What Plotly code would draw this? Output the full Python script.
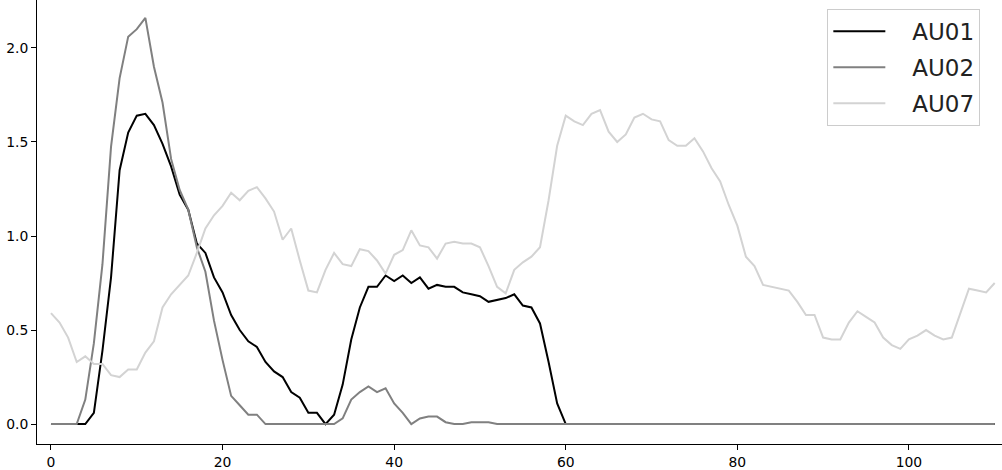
import plotly.graph_objects as go

frames = list(range(111))

au01 = [0, 0, 0, 0, 0, 0.06, 0.39, 0.78, 1.35, 1.55, 1.64, 1.65, 1.59, 1.49, 1.37, 1.22,
        1.14, 0.96, 0.91, 0.78, 0.70, 0.58, 0.50, 0.44, 0.41, 0.33, 0.28, 0.25, 0.17, 0.14,
        0.06, 0.06, 0.0, 0.05, 0.21, 0.45, 0.62, 0.73, 0.73, 0.79, 0.76, 0.79, 0.75, 0.78,
        0.72, 0.74, 0.73, 0.73, 0.70, 0.69, 0.68, 0.65, 0.66, 0.67, 0.69, 0.63, 0.62, 0.535,
        0.33, 0.11, 0] + [0] * 50

au02 = [0, 0, 0, 0, 0.13, 0.43, 0.85, 1.475, 1.84, 2.06, 2.10, 2.16, 1.90, 1.71, 1.41, 1.245,
        1.14, 0.94, 0.81, 0.55, 0.34, 0.15, 0.10, 0.05, 0.05, 0, 0, 0, 0, 0,
        0, 0, 0, 0, 0.03, 0.13, 0.17, 0.20, 0.17, 0.19, 0.11, 0.06, 0.0, 0.03,
        0.04, 0.04, 0.01, 0.0, 0.0, 0.01, 0.01, 0.01, 0] + [0] * 58

au07 = [0.59, 0.54, 0.46, 0.33, 0.36, 0.32, 0.32, 0.26, 0.25, 0.29, 0.29, 0.38, 0.44, 0.62,
        0.69, 0.74, 0.79, 0.91, 1.04, 1.11, 1.16, 1.23, 1.19, 1.24, 1.26, 1.20, 1.13, 0.98,
        1.04, 0.87, 0.71, 0.70, 0.82, 0.91, 0.85, 0.84, 0.93, 0.92, 0.87, 0.80, 0.90, 0.925,
        1.03, 0.95, 0.94, 0.88, 0.96, 0.97, 0.96, 0.96, 0.94, 0.84, 0.73, 0.695, 0.82, 0.86,
        0.89, 0.94, 1.19, 1.48, 1.64, 1.61, 1.59, 1.65, 1.67, 1.555, 1.50, 1.54, 1.63, 1.65,
        1.62, 1.61, 1.51, 1.48, 1.48, 1.52, 1.45, 1.36, 1.29, 1.165, 1.055, 0.89, 0.84, 0.74,
        0.73, 0.72, 0.71, 0.65, 0.58, 0.58, 0.46, 0.45, 0.45, 0.54, 0.60, 0.57, 0.54, 0.46,
        0.42, 0.40, 0.45, 0.47, 0.50, 0.47, 0.45, 0.46, 0.59, 0.72, 0.71, 0.70, 0.75]

x_ticks = [0, 20, 40, 60, 80, 100]
y_ticks = [0.0, 0.5, 1.0, 1.5, 2.0]

pad = '\u00a0\u00a0\u00a0'
fig = go.Figure()
fig.add_scatter(x=frames, y=au01, mode='lines', name=pad + 'AU01', legendgroup='a',
                line=dict(color='black', width=2))
fig.add_scatter(x=frames, y=au02, mode='lines', name=pad + 'AU02', legendgroup='b',
                line=dict(color='gray', width=2))
fig.add_scatter(x=frames, y=au07, mode='lines', name=pad + 'AU07', legendgroup='c',
                line=dict(color='lightgray', width=2))

axis_style = dict(showgrid=False, zeroline=False, showline=True, linecolor='black', linewidth=1,
                  ticks='outside', ticklen=5, tickcolor='black',
                  tickfont=dict(family='DejaVu Sans', size=13.9, color='black'))
fig.update_xaxes(range=[-1.63, 110.85], tickvals=x_ticks, **axis_style)
fig.update_yaxes(range=[-0.106, 2.255], tickvals=y_ticks, tickformat='.1f', **axis_style)

fig.update_layout(
    width=1002, height=470,
    margin=dict(l=37, r=0, t=0, b=26),
    plot_bgcolor='white', paper_bgcolor='white',
    legend=dict(x=0.819, y=0.98, xanchor='left', yanchor='top',
                font=dict(family='DejaVu Sans', size=23, color='#222'),
                bgcolor='white', bordercolor='#cccccc', borderwidth=1,
                itemwidth=52, tracegroupgap=3,
                entrywidth=75, entrywidthmode='pixels'),
)
fig.write_html('out.html', config={'displayModeBar': False},
               post_script="document.body.style.margin='0';")
